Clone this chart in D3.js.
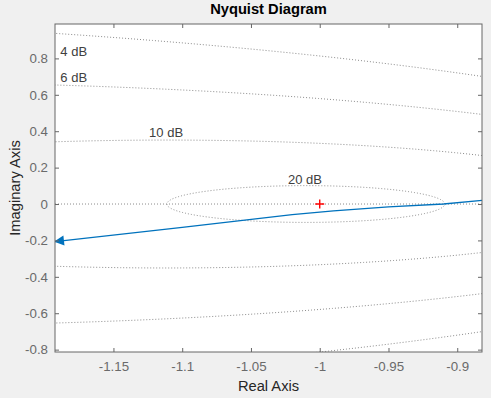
<!DOCTYPE html>
<html>
<head>
<meta charset="utf-8">
<script src="https://cdn.jsdelivr.net/npm/d3@7"></script>
<style>
  body { margin: 0; background: #f0f0f0; }
  svg { display: block; font-family: "Liberation Sans", Arial, Helvetica, sans-serif; }
</style>
</head>
<body>
<svg id="chart" width="491" height="398"></svg>
<script>
// gain contours (dB) and where their labels sit
const gainDb = [4, 6, 10, 20];
const labelX = [-1.1886, -1.1886, -1.1117, -1.0107];
const labelY = [0.813, 0.670, 0.368, 0.110];
const labelAnchor = ["start", "start", "middle", "middle"];

// nyquist curve
const reVals = [-1.1925, -1.10, -1.02, -0.99, -0.95, -0.91, -0.882];
const imVals = [-0.207, -0.128, -0.058, -0.038, -0.016, 0.0, 0.020];

const xTicks = [-1.15, -1.1, -1.05, -1, -0.95, -0.9];
const yTicks = [-0.8, -0.6, -0.4, -0.2, 0, 0.2, 0.4, 0.6, 0.8];

const xDomain = [-1.1925, -0.882];
const yDomain = [-0.813, 0.989];

const margin = { left: 55, top: 24, right: 9, bottom: 46 };
const width = 491 - margin.left - margin.right;
const height = 398 - margin.top - margin.bottom;

const svg = d3.select("#chart");
const g = svg.append("g").attr("transform", "translate(" + margin.left + "," + margin.top + ")");

const x = d3.scaleLinear().domain(xDomain).range([0, width]);
const y = d3.scaleLinear().domain(yDomain).range([height, 0]);

g.append("rect").attr("width", width).attr("height", height).attr("fill", "#fff");

svg.append("defs").append("clipPath").attr("id", "clip")
  .append("rect").attr("width", width).attr("height", height);

const plot = g.append("g").attr("clip-path", "url(#clip)");

// M-circles
const line = d3.line().x(d => x(d[0])).y(d => y(d[1]));
gainDb.forEach(db => {
  const m = Math.pow(10, db / 20);
  const c = -m * m / (m * m - 1);
  const r = Math.abs(m / (m * m - 1));
  const pts = d3.range(0, 721).map(i => {
    const t = i / 720 * 2 * Math.PI;
    return [c + r * Math.cos(t), r * Math.sin(t)];
  });
  plot.append("path").attr("d", line(pts))
    .attr("fill", "none").attr("stroke", "#8c8c8c")
    .attr("stroke-width", 1).attr("stroke-dasharray", "1,2");
});

// real axis
plot.append("line")
  .attr("x1", 0).attr("x2", width).attr("y1", y(0)).attr("y2", y(0))
  .attr("stroke", "#8c8c8c").attr("stroke-dasharray", "1,2");

gainDb.forEach((db, i) => {
  g.append("text").text(db + " dB")
    .attr("x", x(labelX[i])).attr("y", y(labelY[i]))
    .attr("text-anchor", labelAnchor[i])
    .attr("font-size", "13px").attr("fill", "#404040");
});

// curve
const curve = reVals.map((v, i) => [v, imVals[i]]);
plot.append("path").attr("d", line(curve))
  .attr("fill", "none").attr("stroke", "#0072BD").attr("stroke-width", 1.3);

// arrow at the start, pointing left along the curve
const ax = x(reVals[0]) - 1, ay = y(imVals[0]);
const ang = Math.atan2(y(imVals[1]) - ay, x(reVals[1]) - ax);
const L = 10, W = 5;
const bx = ax + L * Math.cos(ang), by = ay + L * Math.sin(ang);
plot.append("path")
  .attr("d", "M" + ax + "," + ay +
    "L" + (bx - W * Math.sin(ang)) + "," + (by + W * Math.cos(ang)) +
    "L" + (bx + W * Math.sin(ang)) + "," + (by - W * Math.cos(ang)) + "Z")
  .attr("fill", "#0072BD");

// critical point
const px = x(-1), py = y(0);
plot.append("path").attr("d", "M" + (px - 4.5) + "," + py + "H" + (px + 4.5) + "M" + px + "," + (py - 4.5) + "V" + (py + 4.5))
  .attr("stroke", "#ff0000").attr("stroke-width", 1.4);

// axes
const xa = g.append("g").attr("transform", "translate(0," + height + ")")
  .call(d3.axisBottom(x).tickValues(xTicks).tickSizeInner(-4).tickSizeOuter(0).tickPadding(10)
    .tickFormat(d => String(d)));
const ya = g.append("g")
  .call(d3.axisLeft(y).tickValues(yTicks).tickSizeInner(-4).tickSizeOuter(0).tickPadding(7)
    .tickFormat(d => String(d)));
const xt = g.append("g")
  .call(d3.axisTop(x).tickValues(xTicks).tickSizeInner(-4).tickSizeOuter(0).tickFormat(""));
const yr = g.append("g").attr("transform", "translate(" + width + ",0)")
  .call(d3.axisRight(y).tickValues(yTicks).tickSizeInner(-4).tickSizeOuter(0).tickFormat(""));

[xa, ya, xt, yr].forEach(a => {
  a.select(".domain").remove();
  a.selectAll("line").attr("stroke", "#666");
  a.selectAll("text").attr("fill", "#6a6a6a").attr("font-size", "13.3px").attr("font-family", null);
});

g.append("rect").attr("width", width).attr("height", height)
  .attr("fill", "none").attr("stroke", "#666").attr("stroke-width", 1);

svg.append("text").text("Nyquist Diagram")
  .attr("x", margin.left + width / 2).attr("y", 14)
  .attr("text-anchor", "middle").attr("font-weight", "bold")
  .attr("font-size", "14.7px").attr("fill", "#000");

svg.append("text").text("Real Axis")
  .attr("x", margin.left + width / 2).attr("y", 391)
  .attr("text-anchor", "middle").attr("font-size", "14.7px").attr("fill", "#262626");

svg.append("text").text("Imaginary Axis")
  .attr("transform", "translate(20," + (margin.top + height / 2) + ") rotate(-90)")
  .attr("text-anchor", "middle").attr("font-size", "14.7px").attr("fill", "#262626");
</script>
</body>
</html>
